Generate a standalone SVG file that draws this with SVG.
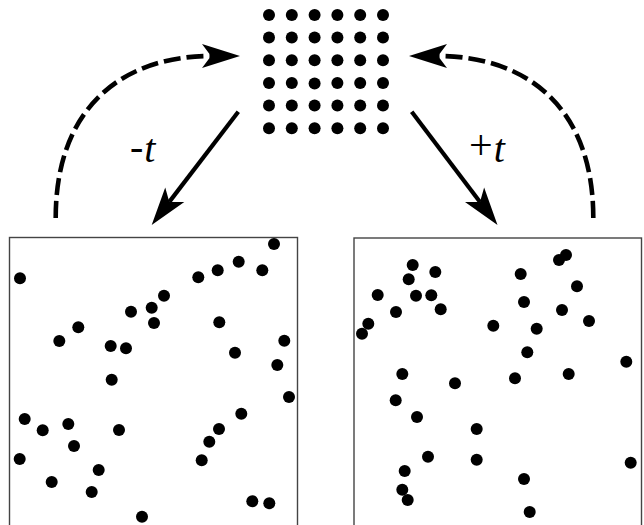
<svg xmlns="http://www.w3.org/2000/svg" xmlns:xlink="http://www.w3.org/1999/xlink" width="644" height="525" viewBox="0 0 644 525">
<style>
.dot{fill:#000}
.box{fill:#fff;stroke:#444;stroke-width:1.4}
.solid{fill:none;stroke:#000;stroke-width:4.2}
.dash{fill:none;stroke:#000;stroke-width:4.6;stroke-dasharray:17 6}
.lbl{font-family:"Liberation Serif","Times New Roman",serif;fill:#000;font-size:40px}
.it{font-style:italic}
</style>
<defs>
<marker id="ah" markerUnits="userSpaceOnUse" viewBox="-39 -13 40 26" refX="-29" refY="0" markerWidth="40" markerHeight="26" orient="auto" overflow="visible">
<path d="M0,0 L-38,-12 L-29,0 L-38,12 Z" fill="#000"/>
</marker>
<circle id="g" r="6" class="dot"/>
<circle id="s" r="6" class="dot"/>
</defs>
<g id="lattice">
<use xlink:href="#g" x="269" y="15"/><use xlink:href="#g" x="291.8" y="15"/><use xlink:href="#g" x="314.6" y="15"/><use xlink:href="#g" x="337.4" y="15"/><use xlink:href="#g" x="360.2" y="15"/><use xlink:href="#g" x="383" y="15"/>
<use xlink:href="#g" x="269" y="37.6"/><use xlink:href="#g" x="291.8" y="37.6"/><use xlink:href="#g" x="314.6" y="37.6"/><use xlink:href="#g" x="337.4" y="37.6"/><use xlink:href="#g" x="360.2" y="37.6"/><use xlink:href="#g" x="383" y="37.6"/>
<use xlink:href="#g" x="269" y="60.3"/><use xlink:href="#g" x="291.8" y="60.3"/><use xlink:href="#g" x="314.6" y="60.3"/><use xlink:href="#g" x="337.4" y="60.3"/><use xlink:href="#g" x="360.2" y="60.3"/><use xlink:href="#g" x="383" y="60.3"/>
<use xlink:href="#g" x="269" y="82.9"/><use xlink:href="#g" x="291.8" y="82.9"/><use xlink:href="#g" x="314.6" y="83.6"/><use xlink:href="#g" x="337.4" y="82.9"/><use xlink:href="#g" x="360.2" y="82.9"/><use xlink:href="#g" x="383" y="82.9"/>
<use xlink:href="#g" x="269" y="105.6"/><use xlink:href="#g" x="291.8" y="105.6"/><use xlink:href="#g" x="314.6" y="105.6"/><use xlink:href="#g" x="337.4" y="105.6"/><use xlink:href="#g" x="360.2" y="105.6"/><use xlink:href="#g" x="383" y="105.6"/>
<use xlink:href="#g" x="269" y="128.2"/><use xlink:href="#g" x="291.8" y="128.2"/><use xlink:href="#g" x="314.6" y="128.2"/><use xlink:href="#g" x="337.4" y="128.2"/><use xlink:href="#g" x="360.2" y="128.2"/><use xlink:href="#g" x="383" y="128.2"/>
</g>
<g id="left-state">
<rect class="box" x="9.5" y="237.5" width="288" height="300"/>
<use xlink:href="#s" x="274" y="244"/><use xlink:href="#s" x="20" y="278.3"/><use xlink:href="#s" x="198.3" y="277.3"/><use xlink:href="#s" x="217.7" y="270.3"/><use xlink:href="#s" x="238.7" y="261.7"/><use xlink:href="#s" x="262.3" y="270.3"/>
<use xlink:href="#s" x="164" y="295.7"/><use xlink:href="#s" x="151.7" y="307.7"/><use xlink:href="#s" x="131" y="311.7"/><use xlink:href="#s" x="154" y="323"/><use xlink:href="#s" x="78.3" y="327.3"/><use xlink:href="#s" x="59.3" y="341"/>
<use xlink:href="#s" x="110.7" y="346"/><use xlink:href="#s" x="126" y="348.3"/><use xlink:href="#s" x="219.3" y="322.3"/><use xlink:href="#s" x="284.3" y="340.7"/><use xlink:href="#s" x="235" y="352.7"/><use xlink:href="#s" x="277.3" y="365"/>
<use xlink:href="#s" x="111.7" y="379.7"/><use xlink:href="#s" x="289" y="397"/><use xlink:href="#s" x="24.7" y="419"/><use xlink:href="#s" x="42.7" y="430.3"/><use xlink:href="#s" x="68.3" y="424"/><use xlink:href="#s" x="119" y="430"/>
<use xlink:href="#s" x="74" y="446"/><use xlink:href="#s" x="241.3" y="413.7"/><use xlink:href="#s" x="219" y="429"/><use xlink:href="#s" x="209.3" y="441.7"/><use xlink:href="#s" x="19.7" y="459"/><use xlink:href="#s" x="201.7" y="460.3"/>
<use xlink:href="#s" x="98.7" y="470"/><use xlink:href="#s" x="51.7" y="482"/><use xlink:href="#s" x="91.7" y="492"/><use xlink:href="#s" x="252.3" y="501.3"/><use xlink:href="#s" x="269.3" y="503.3"/><use xlink:href="#s" x="142" y="516.7"/>
</g>
<g id="right-state">
<rect class="box" x="354" y="238" width="287.5" height="300"/>
<use xlink:href="#s" x="566" y="255"/><use xlink:href="#s" x="559" y="260"/><use xlink:href="#s" x="412.7" y="265"/><use xlink:href="#s" x="435.3" y="272"/><use xlink:href="#s" x="520.7" y="274"/><use xlink:href="#s" x="408.7" y="279.3"/>
<use xlink:href="#s" x="577" y="286.3"/><use xlink:href="#s" x="377.7" y="295"/><use xlink:href="#s" x="416" y="295.7"/><use xlink:href="#s" x="431.3" y="295.3"/><use xlink:href="#s" x="524" y="302"/><use xlink:href="#s" x="440.7" y="309.3"/>
<use xlink:href="#s" x="396" y="312"/><use xlink:href="#s" x="562" y="310"/><use xlink:href="#s" x="589" y="321"/><use xlink:href="#s" x="368.3" y="323.7"/><use xlink:href="#s" x="362" y="333.7"/><use xlink:href="#s" x="493.3" y="325.7"/>
<use xlink:href="#s" x="536.7" y="328.7"/><use xlink:href="#s" x="527.3" y="352.3"/><use xlink:href="#s" x="626.3" y="361.7"/><use xlink:href="#s" x="402.3" y="374"/><use xlink:href="#s" x="568.7" y="374"/><use xlink:href="#s" x="515" y="378.3"/>
<use xlink:href="#s" x="455" y="383.3"/><use xlink:href="#s" x="395.7" y="400.3"/><use xlink:href="#s" x="417" y="417"/><use xlink:href="#s" x="476.7" y="429"/><use xlink:href="#s" x="428" y="456.7"/><use xlink:href="#s" x="476.7" y="459.7"/>
<use xlink:href="#s" x="630.7" y="462.7"/><use xlink:href="#s" x="404.7" y="471"/><use xlink:href="#s" x="524" y="479"/><use xlink:href="#s" x="402.3" y="489.7"/><use xlink:href="#s" x="407.7" y="500"/><use xlink:href="#s" x="529.7" y="512"/>
</g>
<g id="connectors">
<path class="solid" d="M238.3,111.7 L169.3,201.9" marker-end="url(#ah)"/>
<path class="solid" d="M411.7,111.7 L480,201.9" marker-end="url(#ah)"/>
<path class="dash" d="M55.7,218 C55.7,105 125,56 211,56" marker-end="url(#ah)"/>
<path class="dash" d="M593.3,218 C593.3,105 524,56 438,56" marker-end="url(#ah)"/>
</g>
<g id="labels">
<text class="lbl" x="130" y="162"><tspan dy="-2">-</tspan><tspan class="it" dx="1" dy="2">t</tspan></text>
<text class="lbl" x="469" y="162"><tspan font-size="42" dy="-3">+</tspan><tspan class="it" dx="1" dy="3">t</tspan></text>
</g>
</svg>
